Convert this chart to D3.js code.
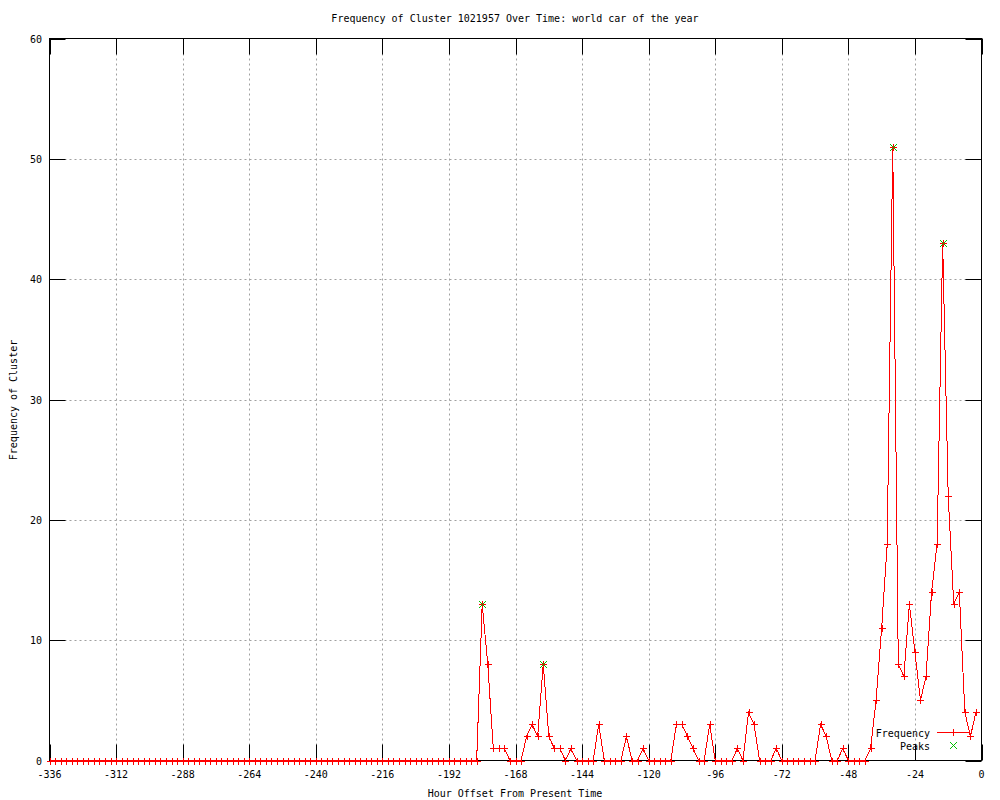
<!DOCTYPE html>
<html>
<head>
<meta charset="utf-8">
<script src="https://cdn.jsdelivr.net/npm/d3@7"></script>
<style>
  body { margin: 0; background: #fff; }
  text { font-family: "DejaVu Sans Mono", monospace; font-size: 10px; fill: #000; }
</style>
</head>
<body>
<div id="chart"></div>
<script>
// hour offsets (every 2 hours, -336 .. -2)
const hours = d3.range(-336, 0, 2);

// frequency per slot
const frequency = [
  0,0,0,0,0,0,0,0,0,0, 0,0,0,0,0,0,0,0,0,0,
  0,0,0,0,0,0,0,0,0,0, 0,0,0,0,0,0,0,0,0,0,
  0,0,0,0,0,0,0,0,0,0, 0,0,0,0,0,0,0,0,0,0,
  0,0,0,0,0,0,0,0,0,0, 0,0,0,0,0,0,0,0,
  13, 8, 1, 1, 1, 0, 0, 0, 2, 3,
  2, 8, 2, 1, 1, 0, 1, 0, 0, 0,
  0, 3, 0, 0, 0, 0, 2, 0, 0, 1,
  0, 0, 0, 0, 0, 3, 3, 2, 1, 0,
  0, 3, 0, 0, 0, 0, 1, 0, 4, 3,
  0, 0, 0, 1, 0, 0, 0, 0, 0, 0,
  0, 3, 2, 0, 0, 1, 0, 0, 0, 0,
  1, 5, 11, 18, 51, 8, 7, 13, 9, 5,
  7, 14, 18, 43, 22, 13, 14, 4, 2, 4
];

const peakHours = [-180, -158, -32, -14];
const peakValues = [13, 8, 51, 43];

const xTicks = [-336, -312, -288, -264, -240, -216, -192, -168, -144, -120, -96, -72, -48, -24, 0];
const yTicks = [0, 10, 20, 30, 40, 50, 60];

const width = 1000;
const height = 800;
const plotLeft = 49.5, plotRight = 981.5, plotTop = 38.5, plotBottom = 760.5;

const svg = d3.select("#chart")
    .append("svg")
    .attr("width", width)
    .attr("height", height);

const x = d3.scaleLinear().domain([-336, 0]).range([plotLeft, plotRight]);
const y = d3.scaleLinear().domain([0, 60]).range([plotBottom, plotTop]);

const data = hours.map((h, i) => ({ h: h, v: frequency[i] }));
const peaks = peakHours.map((h, i) => ({ h: h, v: peakValues[i] }));

// grid
svg.selectAll(".vgrid")
    .data(xTicks.slice(1, -1))
    .enter()
    .append("line")
    .attr("x1", d => Math.round(x(d)) + 0.5)
    .attr("x2", d => Math.round(x(d)) + 0.5)
    .attr("y1", plotTop)
    .attr("y2", plotBottom)
    .attr("stroke", "#a0a0a0")
    .attr("stroke-dasharray", "2,3");

svg.selectAll(".hgrid")
    .data(yTicks.slice(1, -1))
    .enter()
    .append("line")
    .attr("x1", plotLeft)
    .attr("x2", plotRight)
    .attr("y1", d => Math.round(y(d)) + 0.5)
    .attr("y2", d => Math.round(y(d)) + 0.5)
    .attr("stroke", "#a0a0a0")
    .attr("stroke-dasharray", "2,3");

// ticks (inward, mirrored)
const tickLen = 16;
xTicks.forEach(t => {
    const px = Math.round(x(t)) + 0.5;
    svg.append("line").attr("x1", px).attr("x2", px)
        .attr("y1", plotBottom).attr("y2", plotBottom - tickLen).attr("stroke", "black");
    svg.append("line").attr("x1", px).attr("x2", px)
        .attr("y1", plotTop).attr("y2", plotTop + tickLen).attr("stroke", "black");
});
yTicks.forEach(t => {
    const py = Math.round(y(t)) + 0.5;
    svg.append("line").attr("x1", plotLeft).attr("x2", plotLeft + tickLen)
        .attr("y1", py).attr("y2", py).attr("stroke", "black");
    svg.append("line").attr("x1", plotRight).attr("x2", plotRight - tickLen)
        .attr("y1", py).attr("y2", py).attr("stroke", "black");
});

// border
svg.append("rect")
    .attr("x", plotLeft)
    .attr("y", plotTop)
    .attr("width", plotRight - plotLeft)
    .attr("height", plotBottom - plotTop)
    .attr("fill", "none")
    .attr("stroke", "black");

// tick labels
svg.selectAll(".xlab")
    .data(xTicks)
    .enter()
    .append("text")
    .attr("x", d => x(d))
    .attr("y", 778)
    .attr("text-anchor", "middle")
    .text(d => d);

svg.selectAll(".ylab")
    .data(yTicks)
    .enter()
    .append("text")
    .attr("x", 42)
    .attr("y", d => y(d) + 4)
    .attr("text-anchor", "end")
    .text(d => d);

// titles
svg.append("text")
    .attr("x", 515)
    .attr("y", 22)
    .attr("text-anchor", "middle")
    .text("Frequency of Cluster 1021957 Over Time: world car of the year");

svg.append("text")
    .attr("x", 515)
    .attr("y", 797)
    .attr("text-anchor", "middle")
    .text("Hour Offset From Present Time");

svg.append("text")
    .attr("transform", "translate(17,400) rotate(-90)")
    .attr("text-anchor", "middle")
    .text("Frequency of Cluster");

// frequency line
const line = d3.line()
    .x(d => x(d.h))
    .y(d => y(d.v));

svg.append("path")
    .datum(data)
    .attr("d", line)
    .attr("fill", "none")
    .attr("stroke", "#ff0000")
    .attr("stroke-width", 1)
    .attr("shape-rendering", "crispEdges");

const plus = (px, py, s) => `M${px - s},${py}H${px + s}M${px},${py - s}V${py + s}`;
const cross = (px, py, s) => `M${px - s},${py - s}L${px + s},${py + s}M${px - s},${py + s}L${px + s},${py - s}`;

svg.append("path")
    .attr("d", data.map(d => plus(Math.round(x(d.h)) + 0.5, Math.round(y(d.v)) + 0.5, 3.5)).join(""))
    .attr("fill", "none")
    .attr("stroke", "#ff0000")
    .attr("stroke-width", 1);

// peaks
svg.append("path")
    .attr("d", peaks.map(d => cross(Math.round(x(d.h)) + 0.5, Math.round(y(d.v)) + 0.5, 3.5)).join(""))
    .attr("fill", "none")
    .attr("stroke", "#00c000")
    .attr("stroke-width", 1)
    .attr("shape-rendering", "crispEdges");

// legend
svg.append("text")
    .attr("x", 930)
    .attr("y", 737)
    .attr("text-anchor", "end")
    .text("Frequency");
svg.append("line")
    .attr("x1", 937).attr("x2", 970)
    .attr("y1", 732.5).attr("y2", 732.5)
    .attr("stroke", "#ff0000");
svg.append("path")
    .attr("d", plus(953.5, 732.5, 3.5))
    .attr("stroke", "#ff0000");

svg.append("text")
    .attr("x", 930)
    .attr("y", 750)
    .attr("text-anchor", "end")
    .text("Peaks");
svg.append("path")
    .attr("d", cross(953.5, 745.5, 3.5))
    .attr("stroke", "#00c000")
    .attr("shape-rendering", "crispEdges");
</script>
</body>
</html>
